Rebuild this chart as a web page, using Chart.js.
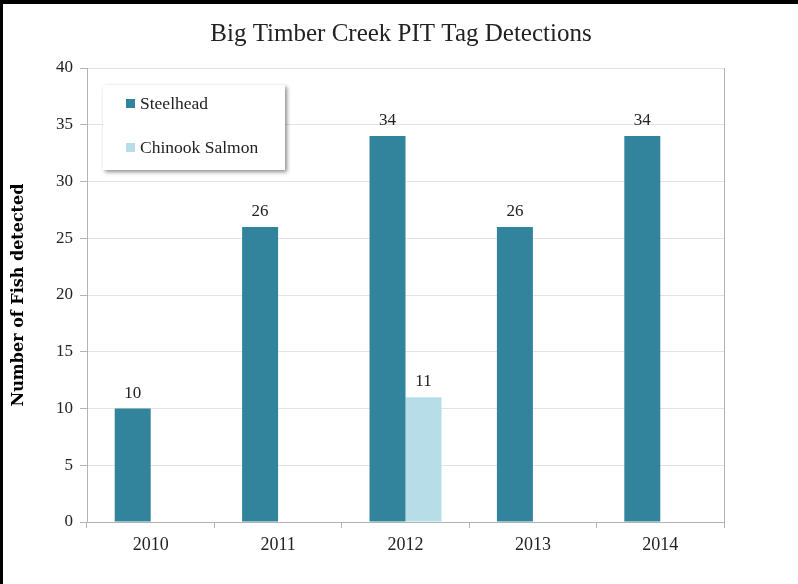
<!DOCTYPE html>
<html>
<head>
<meta charset="utf-8">
<script src="https://cdn.jsdelivr.net/npm/chart.js@4.4.1/dist/chart.umd.min.js"></script>
<style>
  html, body { margin: 0; padding: 0; background: #fff; }
  #wrap { position: relative; width: 798px; height: 584px; box-sizing: border-box;
          border-top: 4px solid #000; border-left: 3px solid #000; }
  #wrap canvas { position: absolute; left: -3px; top: -4px; }
</style>
</head>
<body>
<div id="wrap"><canvas id="fishChart" width="798" height="584"></canvas></div>
<script>
const years = ['2010', '2011', '2012', '2013', '2014'];
const steelhead = [10, 26, 34, 26, 34];
const chinook = [null, null, 11, null, null];
const yTicks = [0, 5, 10, 15, 20, 25, 30, 35, 40];

const serif = "'Liberation Serif', 'DejaVu Serif', serif";

// title, value labels, legend box and right frame line
const extras = {
    id: 'extras',
    afterDatasetsDraw(chart) {
        const ctx = chart.ctx;
        const area = chart.chartArea;
        ctx.save();

        ctx.strokeStyle = '#b3b3b3';
        ctx.lineWidth = 1;
        ctx.beginPath();
        ctx.moveTo(Math.round(area.right) + 0.5, area.top);
        ctx.lineTo(Math.round(area.right) + 0.5, area.bottom + 6);
        ctx.stroke();

        ctx.fillStyle = '#222';
        ctx.font = '25px ' + serif;
        ctx.textAlign = 'center';
        ctx.textBaseline = 'middle';
        ctx.fillText('Big Timber Creek PIT Tag Detections', 401, 34);

        ctx.font = '17px ' + serif;
        ctx.textBaseline = 'alphabetic';
        chart.data.datasets.forEach((ds, i) => {
            chart.getDatasetMeta(i).data.forEach((bar, j) => {
                if (ds.data[j] == null) return;
                ctx.fillText(ds.data[j], bar.x, bar.y - 11);
            });
        });

        // legend box with shadow
        const lx = 103, ly = 85, lw = 182, lh = 85;
        ctx.shadowColor = 'rgba(0,0,0,0.45)';
        ctx.shadowBlur = 4;
        ctx.shadowOffsetX = 2;
        ctx.shadowOffsetY = 2;
        ctx.fillStyle = '#fff';
        ctx.fillRect(lx, ly, lw, lh);
        ctx.shadowColor = 'transparent';
        ctx.font = '17.5px ' + serif;
        ctx.textAlign = 'left';
        ctx.textBaseline = 'middle';
        chart.data.datasets.forEach((ds, i) => {
            const y = 104 + i * 44;
            ctx.fillStyle = ds.backgroundColor;
            ctx.fillRect(126, y - 5, 9, 9);
            ctx.fillStyle = '#222';
            ctx.fillText(ds.label, 140, y);
        });
        ctx.restore();
    }
};

new Chart(document.getElementById('fishChart'), {
    type: 'bar',
    data: {
        labels: years,
        datasets: [
            { label: 'Steelhead', data: steelhead, backgroundColor: '#31849b' },
            { label: 'Chinook Salmon', data: chinook, backgroundColor: '#b7dde8' }
        ]
    },
    options: {
        responsive: false,
        animation: false,
        events: [],
        layout: { padding: { top: 68, left: 0, right: 74, bottom: 0 } },
        datasets: { bar: { categoryPercentage: 0.565, barPercentage: 1 } },
        plugins: { legend: { display: false }, title: { display: false }, tooltip: { enabled: false } },
        scales: {
            x: {
                afterFit(scale) { scale.height = 62; },
                grid: { offset: true, drawOnChartArea: false, tickLength: 6, color: '#b3b3b3' },
                border: { color: '#b3b3b3' },
                ticks: { color: '#222', font: { family: serif, size: 18 }, padding: 6 }
            },
            y: {
                min: 0,
                max: 40,
                afterFit(scale) { scale.width = 87; },
                afterBuildTicks(scale) { scale.ticks = yTicks.map(v => ({ value: v })); },
                grid: { color: '#e3e3e3', tickLength: 7, tickColor: '#b3b3b3' },
                border: { color: '#b3b3b3' },
                ticks: { color: '#222', font: { family: serif, size: 17 }, padding: 7 },
                title: {
                    display: true,
                    text: 'Number of Fish detected',
                    color: '#000',
                    font: { family: "'DejaVu Serif', serif", size: 16, weight: 'bold' },
                    padding: { top: 9, bottom: 0 }
                }
            }
        }
    },
    plugins: [extras]
});
</script>
</body>
</html>
